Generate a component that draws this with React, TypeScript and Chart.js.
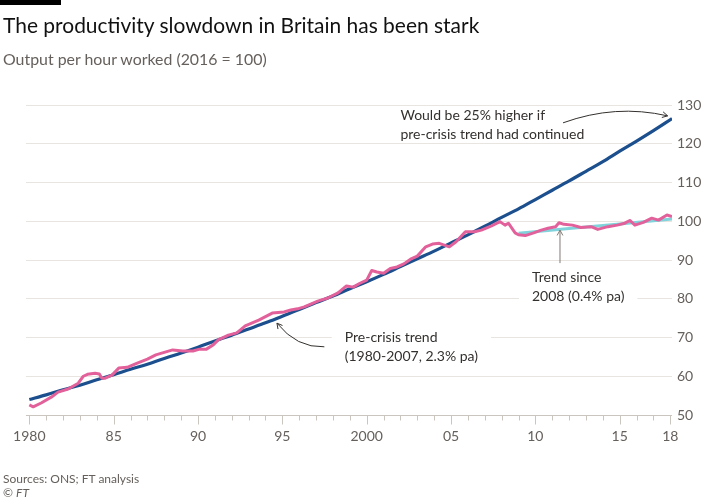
import React, { useEffect, useMemo, useRef } from "react";
import { Chart, registerables } from "chart.js";

Chart.register(...registerables);

// ---------- data ----------
const trendYears = [
  1980, 1981, 1982, 1983, 1984, 1985, 1986, 1987, 1988, 1989,
  1990, 1991, 1992, 1993, 1994, 1995, 1996, 1997, 1998, 1999,
  2000, 2001, 2002, 2003, 2004, 2005, 2006, 2007, 2008, 2009,
  2010, 2011, 2012, 2013, 2014, 2015, 2016, 2017, 2018.1,
];
const preCrisisTrend = [
  54.0, 55.2, 56.5, 57.7, 59.1, 60.4, 61.8, 63.1, 64.6, 66.0,
  67.5, 69.1, 70.6, 72.2, 73.8, 75.5, 77.2, 79.0, 80.7, 82.6,
  84.4, 86.3, 88.3, 90.3, 92.3, 94.4, 96.5, 98.7, 101.0, 103.2,
  105.6, 108.0, 110.4, 112.9, 115.4, 118.1, 120.7, 123.4, 126.5,
];

const recentTrendYears = [2009.0, 2012.0, 2015.0, 2018.1];
const recentTrend = [96.9, 98.1, 99.3, 100.6];

const productivityYears = [
  1980.0, 1980.23, 1980.7, 1981.3, 1981.7, 1982.3, 1982.9, 1983.2, 1983.45, 1983.9,
  1984.15, 1984.3, 1984.5, 1984.9, 1985.3, 1985.8, 1986.4, 1987.0, 1987.5, 1988.1,
  1988.5, 1989.1, 1989.7, 1990.1, 1990.5, 1990.9, 1991.2, 1991.8, 1992.3, 1992.8,
  1993.6, 1994.4, 1995.1, 1995.5, 1995.9, 1996.3, 1997.1, 1997.7, 1998.3, 1998.8,
  1999.2, 1999.6, 2000.0, 2000.3, 2000.6, 2001.0, 2001.4, 2001.8, 2002.2, 2002.6,
  2003.0, 2003.5, 2003.9, 2004.3, 2004.9, 2005.3, 2005.85, 2006.4, 2006.8, 2007.4,
  2007.9, 2008.2, 2008.4, 2008.8, 2009.0, 2009.4, 2009.9, 2010.35, 2010.75, 2011.2,
  2011.4, 2011.7, 2012.2, 2012.7, 2013.3, 2013.7, 2014.3, 2014.85, 2015.3, 2015.6,
  2015.9, 2016.4, 2016.9, 2017.3, 2017.8, 2018.1,
];
const productivity = [
  52.6, 52.1, 53.1, 54.6, 55.9, 56.7, 58.2, 60.0, 60.5, 60.8,
  60.6, 59.5, 59.5, 60.3, 62.1, 62.3, 63.4, 64.4, 65.5, 66.3,
  66.8, 66.5, 66.5, 67.0, 67.0, 68.1, 69.4, 70.6, 71.2, 73.0,
  74.5, 76.3, 76.6, 77.1, 77.4, 77.9, 79.4, 80.2, 81.5, 83.3,
  83.0, 84.0, 84.8, 87.3, 86.9, 86.6, 87.8, 88.2, 89.0, 90.2,
  91.0, 93.4, 94.1, 94.3, 93.4, 94.7, 97.3, 97.3, 97.7, 98.8,
  99.9, 99.0, 99.5, 97.0, 96.5, 96.3, 97.0, 97.7, 98.2, 98.6,
  99.6, 99.2, 99.0, 98.4, 98.6, 97.9, 98.6, 99.0, 99.5, 100.2,
  99.0, 99.7, 100.8, 100.3, 101.6, 101.2,
];

const xTickYears = [1980, 1985, 1990, 1995, 2000, 2005, 2010, 2015, 2018];
const xTickLabels = ["1980", "85", "90", "95", "2000", "05", "10", "15", "18"];
const yTickValues = [50, 60, 70, 80, 90, 100, 110, 120, 130];

// ---------- annotations (in data units) ----------
const calloutTexts = [
  { lines: ["Would be 25% higher if", "pre-crisis trend had continued"], x: 2002.0, y: 127.2, mask: false },
  { lines: ["Trend since", "2008 (0.4% pa)"], x: 2009.8, y: 85.4, mask: true },
  { lines: ["Pre-crisis trend", "(1980-2007, 2.3% pa)"], x: 1998.7, y: 69.9, mask: true },
];
const calloutArrows = [
  { from: [2011.64, 125.4], ctrl: [2014.74, 130.3], to: [2017.84, 127.2], grey: false },
  { from: [2011.46, 89.2], ctrl: null, to: [2011.46, 97.7], grey: true },
  { from: [1997.49, 67.6], ctrl: [1995.85, 67.3], to: [1994.68, 73.7], grey: false },
];

// ---------- styles ----------
const FONT = "Lato, 'Noto Sans', sans-serif";
const PINK = "#e3619b";
const BLUE = "#1c4f8d";
const CYAN = "#80d3da";
const GRID = "#e8e4e0";
const TICK = "#cbc5bf";
const GREY_TEXT = "#66605c";
const DARK_TEXT = "#33302e";

function fitFontSize(text: string, target: number) {
  const ctx = document.createElement("canvas").getContext("2d");
  if (!ctx) return 16;
  ctx.font = `400 100px ${FONT}`;
  const w = ctx.measureText(text).width;
  return (100 * target) / w;
}

const axisTicksPlugin = {
  id: "ftAxisTicks",
  afterDatasetsDraw(chart: any) {
    const { ctx, chartArea } = chart;
    const x = chart.scales.x;
    ctx.save();
    ctx.strokeStyle = TICK;
    ctx.lineWidth = 1;
    ctx.beginPath();
    const by = Math.round(chartArea.bottom) + 0.5;
    ctx.moveTo(chartArea.left, by);
    ctx.lineTo(chartArea.right, by);
    for (let yr = 1980; yr <= 2018; yr++) {
      const xp = Math.round(x.getPixelForValue(yr)) + 0.5;
      const major = yr % 5 === 0 || yr === 2018;
      ctx.moveTo(xp, by);
      ctx.lineTo(xp, by + (major ? 9 : 5));
    }
    ctx.stroke();
    ctx.restore();
  },
};

function drawHead(ctx: CanvasRenderingContext2D, tx: number, ty: number, ang: number) {
  const s = 6;
  ctx.beginPath();
  ctx.moveTo(tx - s * Math.cos(ang - 0.5), ty - s * Math.sin(ang - 0.5));
  ctx.lineTo(tx, ty);
  ctx.lineTo(tx - s * Math.cos(ang + 0.5), ty - s * Math.sin(ang + 0.5));
  ctx.stroke();
}

const calloutPlugin = {
  id: "ftCallouts",
  afterDatasetsDraw(chart: any) {
    const { ctx } = chart;
    const xs = chart.scales.x;
    const ys = chart.scales.y;
    const px = (v: number) => xs.getPixelForValue(v);
    const py = (v: number) => ys.getPixelForValue(v);
    ctx.save();
    ctx.font = `400 14px ${FONT}`;
    ctx.textBaseline = "middle";
    ctx.textAlign = "left";
    const lh = 18.5;
    calloutTexts.forEach((c) => {
      const left = px(c.x);
      const top = py(c.y);
      if (c.mask) {
        const w = Math.max(...c.lines.map((l) => ctx.measureText(l).width));
        ctx.fillStyle = "#ffffff";
        ctx.fillRect(left - 13, top - 10, w + 26, lh * (c.lines.length - 1) + 20);
      }
      ctx.fillStyle = DARK_TEXT;
      c.lines.forEach((l, i) => ctx.fillText(l, left, top + i * lh));
    });
    calloutArrows.forEach((a) => {
      ctx.strokeStyle = a.grey ? "#807973" : DARK_TEXT;
      ctx.lineWidth = 1;
      const x0 = px(a.from[0]);
      const y0 = py(a.from[1]);
      const x1 = px(a.to[0]);
      const y1 = py(a.to[1]);
      ctx.beginPath();
      ctx.moveTo(x0, y0);
      let ang;
      if (a.ctrl) {
        const cx = px(a.ctrl[0]);
        const cy = py(a.ctrl[1]);
        ctx.quadraticCurveTo(cx, cy, x1, y1);
        ang = Math.atan2(y1 - cy, x1 - cx);
      } else {
        ctx.lineTo(x1, y1);
        ang = Math.atan2(y1 - y0, x1 - x0);
      }
      ctx.stroke();
      drawHead(ctx, x1, y1, ang);
    });
    ctx.restore();
  },
};

export default function App() {
  const canvasRef = useRef<HTMLCanvasElement | null>(null);

  const sizes = useMemo(
    () => ({
      title: fitFontSize("The productivity slowdown in Britain has been stark", 477),
      subtitle: fitFontSize("Output per hour worked (2016 = 100)", 265),
    }),
    []
  );

  useEffect(() => {
    if (!canvasRef.current) return;
    const chart = new Chart(canvasRef.current, {
      type: "line",
      data: {
        datasets: [
          {
            label: "Output per hour worked",
            data: productivityYears.map((x, i) => ({ x, y: productivity[i] })),
            borderColor: PINK,
            borderWidth: 3,
            pointRadius: 0,
            tension: 0,
            borderJoinStyle: "round",
          },
          {
            label: "Trend since 2008 (0.4% pa)",
            data: recentTrendYears.map((x, i) => ({ x, y: recentTrend[i] })),
            borderColor: CYAN,
            borderWidth: 3,
            pointRadius: 0,
            tension: 0,
          },
          {
            label: "Pre-crisis trend (1980-2007, 2.3% pa)",
            data: trendYears.map((x, i) => ({ x, y: preCrisisTrend[i] })),
            borderColor: BLUE,
            borderWidth: 3.2,
            pointRadius: 0,
            cubicInterpolationMode: "monotone",
          },
        ],
      },
      options: {
        animation: false,
        responsive: false,
        maintainAspectRatio: false,
        layout: { padding: { left: 17, top: 105, right: 0, bottom: 55 } },
        plugins: {
          legend: { display: false },
          tooltip: { enabled: false },
          title: { display: false },
        },
        scales: {
          x: {
            type: "linear",
            min: 1979.8,
            max: 2018.1,
            afterBuildTicks: (s: any) => {
              s.ticks = xTickYears.map((v) => ({ value: v }));
            },
            afterFit: (s: any) => {
              s.height = 30;
            },
            grid: { display: false, drawTicks: false },
            border: { display: false },
            ticks: {
              padding: 13,
              autoSkip: false,
              maxRotation: 0,
              color: GREY_TEXT,
              font: { family: FONT, size: 14 },
              callback: (_v: any, i: number) => xTickLabels[i],
            },
          },
          y: {
            type: "linear",
            position: "right",
            min: 50,
            max: 130,
            afterBuildTicks: (s: any) => {
              s.ticks = yTickValues.map((v) => ({ value: v }));
            },
            afterFit: (s: any) => {
              s.width = 31;
            },
            grid: { color: GRID, drawTicks: false, lineWidth: 1 },
            border: { display: false },
            ticks: {
              padding: 5,
              color: GREY_TEXT,
              font: { family: FONT, size: 14 },
            },
          },
        },
      },
      plugins: [axisTicksPlugin, calloutPlugin],
    } as any);
    return () => chart.destroy();
  }, []);

  return (
    <div
      style={{
        position: "fixed",
        left: 0,
        top: 0,
        width: 703,
        height: 500,
        background: "#ffffff",
        fontFamily: FONT,
        overflow: "hidden",
      }}
    >
      <canvas
        ref={canvasRef}
        width={703}
        height={500}
        style={{ position: "absolute", left: 0, top: 0, width: 703, height: 500 }}
      />
      <div style={{ position: "absolute", left: 0, top: 0, width: 61, height: 5, background: "#000" }} />
      <div
        style={{
          position: "absolute",
          left: 3,
          top: 34 - 0.887 * sizes.title,
          fontSize: sizes.title,
          lineHeight: 1,
          color: "#111",
          whiteSpace: "nowrap",
        }}
      >
        The productivity slowdown in Britain has been stark
      </div>
      <div
        style={{
          position: "absolute",
          left: 3,
          top: 65.5 - 0.887 * sizes.subtitle,
          fontSize: sizes.subtitle,
          lineHeight: 1,
          color: GREY_TEXT,
          whiteSpace: "nowrap",
        }}
      >
        Output per hour worked (2016 = 100)
      </div>
      <div
        style={{
          position: "absolute",
          left: 3,
          top: 484 - 0.887 * 12,
          fontSize: 12,
          lineHeight: 1,
          color: GREY_TEXT,
          whiteSpace: "nowrap",
        }}
      >
        Sources: ONS; FT analysis
      </div>
      <div
        style={{
          position: "absolute",
          left: 3,
          top: 497.5 - 0.887 * 12,
          fontSize: 12,
          lineHeight: 1,
          color: GREY_TEXT,
          whiteSpace: "nowrap",
        }}
      >
        © <span style={{ fontStyle: "italic" }}>FT</span>
      </div>
    </div>
  );
}
